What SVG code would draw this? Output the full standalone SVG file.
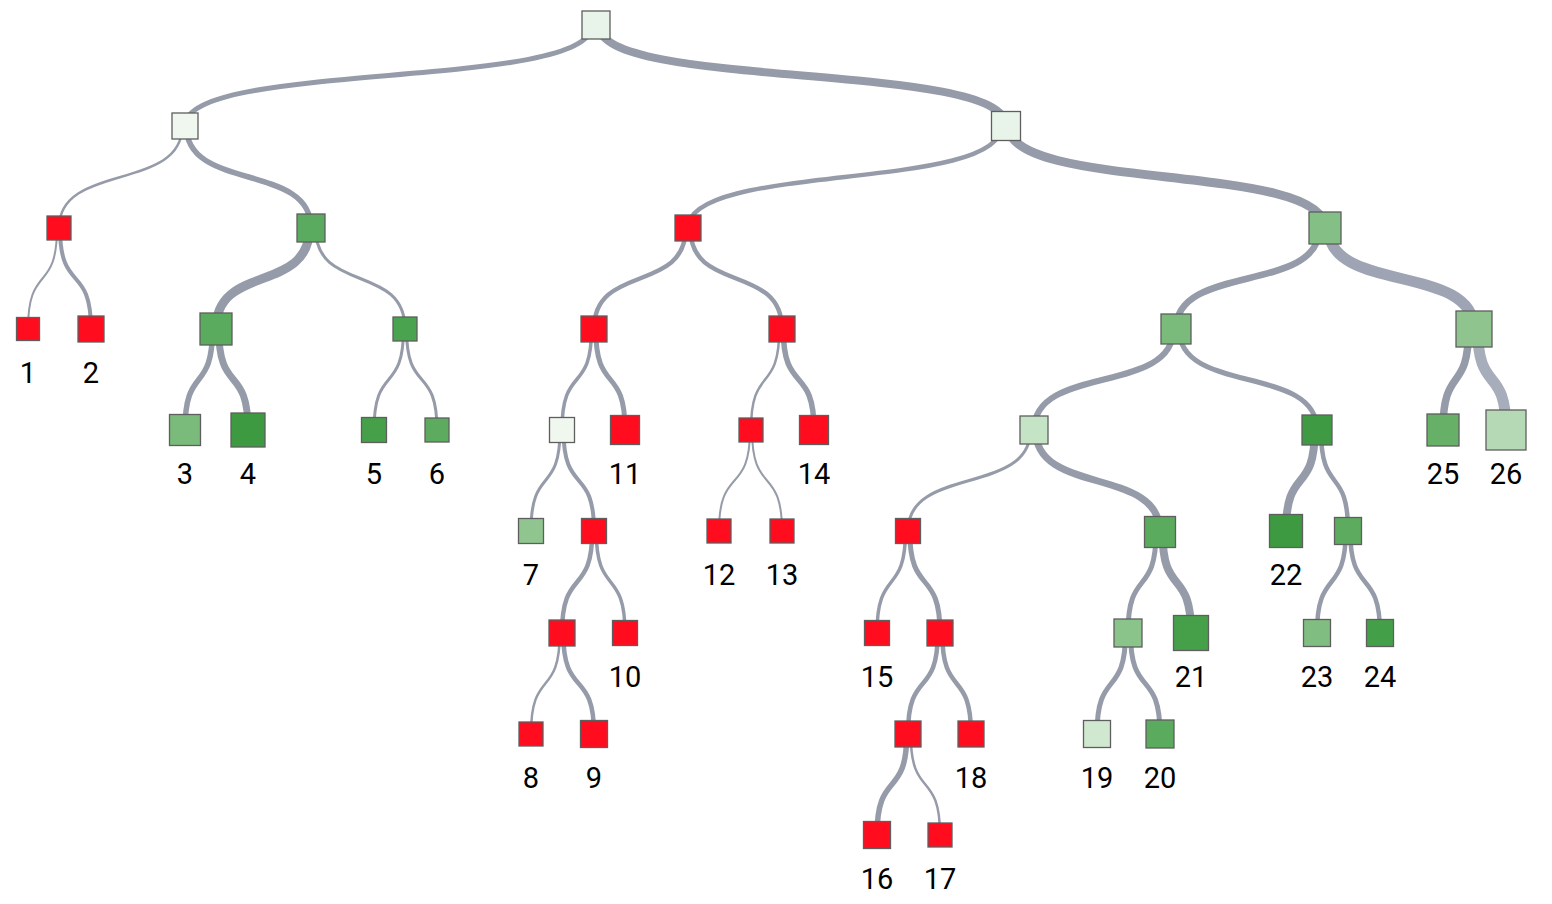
<svg xmlns="http://www.w3.org/2000/svg" width="1552" height="904" viewBox="0 0 1552 904">
<style>
.l{fill:none;stroke:#969ba9;stroke-linecap:butt}
.l2{stroke:#9ea4b3}
.l3{stroke:#a7adbb}
.n{stroke:#5e5e5e;stroke-width:1.3}
.r{fill:#ff0d1f}
.t{font-family:Roboto,"Liberation Sans",sans-serif;font-size:29px;fill:#000;text-anchor:middle}
</style>
<rect width="1552" height="904" fill="#fff"/>
<g id="links">
<path class="l" stroke-width="5" d="M592,25C592,91 185,60 185,126"/>
<path class="l" stroke-width="8" d="M598.5,25C598.5,91 1006,60 1006,126"/>
<path class="l" stroke-width="2.5" d="M182.25,126C182.25,192 59,162 59,228"/>
<path class="l" stroke-width="5.5" d="M186.25,126C186.25,192 311,162 311,228"/>
<path class="l" stroke-width="2" d="M57,228C57,294 28,263 28,329"/>
<path class="l" stroke-width="4" d="M60,228C60,294 91,263 91,329"/>
<path class="l" stroke-width="9" d="M309.5,228C309.5,294 216,263 216,329"/>
<path class="l" stroke-width="3" d="M315.5,228C315.5,294 405,263 405,329"/>
<path class="l" stroke-width="5.5" d="M212.5,329C212.5,395 185,364 185,430"/>
<path class="l" stroke-width="7" d="M218.75,329C218.75,395 248,364 248,430"/>
<path class="l" stroke-width="3" d="M403.5,329C403.5,395 374,364 374,430"/>
<path class="l" stroke-width="3" d="M406.5,329C406.5,395 437,364 437,430"/>
<path class="l" stroke-width="4.5" d="M1001.5,126C1001.5,192 688,162 688,228"/>
<path class="l" stroke-width="9" d="M1008.25,126C1008.25,192 1325,162 1325,228"/>
<path class="l" stroke-width="4.5" d="M685.75,228C685.75,294 594,263 594,329"/>
<path class="l" stroke-width="4.5" d="M690.25,228C690.25,294 782,263 782,329"/>
<path class="l" stroke-width="3.5" d="M591.5,329C591.5,395 562,364 562,430"/>
<path class="l" stroke-width="5" d="M595.75,329C595.75,395 625,364 625,430"/>
<path class="l" stroke-width="3" d="M560,430C560,496 531,465 531,531"/>
<path class="l" stroke-width="4" d="M563.5,430C563.5,496 594,465 594,531"/>
<path class="l" stroke-width="4.5" d="M592.25,531C592.25,597 562,567 562,633"/>
<path class="l" stroke-width="3.5" d="M596.25,531C596.25,597 625,567 625,633"/>
<path class="l" stroke-width="2.5" d="M559.75,633C559.75,699 531,668 531,734"/>
<path class="l" stroke-width="4.5" d="M563.25,633C563.25,699 594,668 594,734"/>
<path class="l" stroke-width="2.5" d="M779.25,329C779.25,395 751,364 751,430"/>
<path class="l" stroke-width="5.5" d="M783.25,329C783.25,395 814,364 814,430"/>
<path class="l" stroke-width="2" d="M750,430C750,496 719,465 719,531"/>
<path class="l" stroke-width="2" d="M752,430C752,496 782,465 782,531"/>
<path class="l" stroke-width="6.5" d="M1319.5,228C1319.5,294 1176,263 1176,329"/>
<path class="l l2" stroke-width="11" d="M1328.25,228C1328.25,294 1474,263 1474,329"/>
<path class="l" stroke-width="7.5" d="M1468.5,329C1468.5,395 1443,364 1443,430"/>
<path class="l l3" stroke-width="11" d="M1477.75,329C1477.75,395 1506,364 1506,430"/>
<path class="l" stroke-width="6" d="M1173.5,329C1173.5,395 1034,364 1034,430"/>
<path class="l" stroke-width="5" d="M1179,329C1179,395 1317,364 1317,430"/>
<path class="l" stroke-width="3" d="M1030.5,430C1030.5,496 908,465 908,531"/>
<path class="l" stroke-width="7" d="M1035.5,430C1035.5,496 1160,466 1160,532"/>
<path class="l" stroke-width="3.5" d="M905.5,531C905.5,597 877,567 877,633"/>
<path class="l" stroke-width="5" d="M909.75,531C909.75,597 940,567 940,633"/>
<path class="l" stroke-width="4.5" d="M937.75,633C937.75,699 908,668 908,734"/>
<path class="l" stroke-width="4.5" d="M942.25,633C942.25,699 971,668 971,734"/>
<path class="l" stroke-width="5.5" d="M906.75,734C906.75,800 877,769 877,835"/>
<path class="l" stroke-width="2.5" d="M910.75,734C910.75,800 940,769 940,835"/>
<path class="l" stroke-width="5" d="M1156,532C1156,598 1128,567 1128,633"/>
<path class="l" stroke-width="8" d="M1162.5,532C1162.5,598 1191,567 1191,633"/>
<path class="l" stroke-width="5" d="M1125.5,633C1125.5,699 1097,668 1097,734"/>
<path class="l" stroke-width="5" d="M1130.5,633C1130.5,699 1160,668 1160,734"/>
<path class="l" stroke-width="8" d="M1314.75,430C1314.75,496 1286,465 1286,531"/>
<path class="l" stroke-width="4.5" d="M1321,430C1321,496 1348,465 1348,531"/>
<path class="l" stroke-width="4.5" d="M1345.75,531C1345.75,597 1317,567 1317,633"/>
<path class="l" stroke-width="4.5" d="M1350.25,531C1350.25,597 1380,567 1380,633"/>
</g>
<g id="R"><rect class="n" x="582" y="11" width="28" height="28" fill="#e8f4ea"/></g>
<g id="A"><rect class="n" x="172" y="113" width="26" height="26" fill="#eff7ef"/></g>
<g id="B"><rect class="n" x="991.5" y="111.5" width="29" height="29" fill="#e8f4ea"/></g>
<g id="A1"><rect class="n r" x="47" y="216" width="24" height="24"/></g>
<g id="A2"><rect class="n" x="297" y="214" width="28" height="28" fill="#5aab5f"/></g>
<g id="n1"><rect class="n r" x="16.5" y="317.5" width="23" height="23"/><text class="t" x="28" y="383">1</text></g>
<g id="n2"><rect class="n r" x="78" y="316" width="26" height="26"/><text class="t" x="91" y="383">2</text></g>
<g id="A21"><rect class="n" x="200" y="313" width="32" height="32" fill="#5aab5e"/></g>
<g id="A22"><rect class="n" x="393" y="317" width="24" height="24" fill="#4aa34f"/></g>
<g id="n3"><rect class="n" x="169.5" y="414.5" width="31" height="31" fill="#7aba7b"/><text class="t" x="185" y="484">3</text></g>
<g id="n4"><rect class="n" x="231" y="413" width="34" height="34" fill="#3d9a41"/><text class="t" x="248" y="484">4</text></g>
<g id="n5"><rect class="n" x="361.5" y="417.5" width="25" height="25" fill="#45a049"/><text class="t" x="374" y="484">5</text></g>
<g id="n6"><rect class="n" x="425" y="418" width="24" height="24" fill="#5cab5f"/><text class="t" x="437" y="484">6</text></g>
<g id="B1"><rect class="n r" x="675" y="215" width="26" height="26"/></g>
<g id="B2"><rect class="n" x="1309" y="212" width="32" height="32" fill="#84c086"/></g>
<g id="B11"><rect class="n r" x="581" y="316" width="26" height="26"/></g>
<g id="B12"><rect class="n r" x="769" y="316" width="26" height="26"/></g>
<g id="B111"><rect class="n" x="549.5" y="417.5" width="25" height="25" fill="#f0f7ef"/></g>
<g id="n11"><rect class="n r" x="610.5" y="415.5" width="29" height="29"/><text class="t" x="625" y="484">11</text></g>
<g id="n7"><rect class="n" x="518.5" y="518.5" width="25" height="25" fill="#90c58f"/><text class="t" x="531" y="585">7</text></g>
<g id="B1112"><rect class="n r" x="581.5" y="518.5" width="25" height="25"/></g>
<g id="B11121"><rect class="n r" x="549" y="620" width="26" height="26"/></g>
<g id="n10"><rect class="n r" x="612.5" y="620.5" width="25" height="25"/><text class="t" x="625" y="687">10</text></g>
<g id="n8"><rect class="n r" x="519" y="722" width="24" height="24"/><text class="t" x="531" y="788">8</text></g>
<g id="n9"><rect class="n r" x="580.5" y="720.5" width="27" height="27"/><text class="t" x="594" y="788">9</text></g>
<g id="B121"><rect class="n r" x="739" y="418" width="24" height="24"/></g>
<g id="n14"><rect class="n r" x="799.5" y="415.5" width="29" height="29"/><text class="t" x="814" y="484">14</text></g>
<g id="n12"><rect class="n r" x="707" y="519" width="24" height="24"/><text class="t" x="719" y="585">12</text></g>
<g id="n13"><rect class="n r" x="770" y="519" width="24" height="24"/><text class="t" x="782" y="585">13</text></g>
<g id="B21"><rect class="n" x="1161" y="314" width="30" height="30" fill="#7aba7b"/></g>
<g id="B22"><rect class="n" x="1456" y="311" width="36" height="36" fill="#8fc48f"/></g>
<g id="n25"><rect class="n" x="1427" y="414" width="32" height="32" fill="#67b068"/><text class="t" x="1443" y="484">25</text></g>
<g id="n26"><rect class="n" x="1486" y="410" width="40" height="40" fill="#b4d9b4"/><text class="t" x="1506" y="484">26</text></g>
<g id="B211"><rect class="n" x="1020" y="416" width="28" height="28" fill="#c5e3c5"/></g>
<g id="B212"><rect class="n" x="1302" y="415" width="30" height="30" fill="#3f9b43"/></g>
<g id="B2111"><rect class="n r" x="895.5" y="518.5" width="25" height="25"/></g>
<g id="B2112"><rect class="n" x="1144.5" y="516.5" width="31" height="31" fill="#5aab5e"/></g>
<g id="n15"><rect class="n r" x="864.5" y="620.5" width="25" height="25"/><text class="t" x="877" y="687">15</text></g>
<g id="B21112"><rect class="n r" x="927" y="620" width="26" height="26"/></g>
<g id="B211121"><rect class="n r" x="895" y="721" width="26" height="26"/></g>
<g id="n18"><rect class="n r" x="958" y="721" width="26" height="26"/><text class="t" x="971" y="788">18</text></g>
<g id="n16"><rect class="n r" x="863.5" y="821.5" width="27" height="27"/><text class="t" x="877" y="889">16</text></g>
<g id="n17"><rect class="n r" x="928" y="823" width="24" height="24"/><text class="t" x="940" y="889">17</text></g>
<g id="B21121"><rect class="n" x="1114" y="619" width="28" height="28" fill="#8bc48b"/></g>
<g id="n21"><rect class="n" x="1173.5" y="615.5" width="35" height="35" fill="#45a049"/><text class="t" x="1191" y="687">21</text></g>
<g id="n19"><rect class="n" x="1083.5" y="720.5" width="27" height="27" fill="#d0e8d0"/><text class="t" x="1097" y="788">19</text></g>
<g id="n20"><rect class="n" x="1146" y="720" width="28" height="28" fill="#5aab5e"/><text class="t" x="1160" y="788">20</text></g>
<g id="n22"><rect class="n" x="1269.5" y="514.5" width="33" height="33" fill="#3d9a41"/><text class="t" x="1286" y="585">22</text></g>
<g id="B2122"><rect class="n" x="1334.5" y="517.5" width="27" height="27" fill="#5cab5f"/></g>
<g id="n23"><rect class="n" x="1303.5" y="619.5" width="27" height="27" fill="#80bd80"/><text class="t" x="1317" y="687">23</text></g>
<g id="n24"><rect class="n" x="1366.5" y="619.5" width="27" height="27" fill="#44a048"/><text class="t" x="1380" y="687">24</text></g>
</svg>
